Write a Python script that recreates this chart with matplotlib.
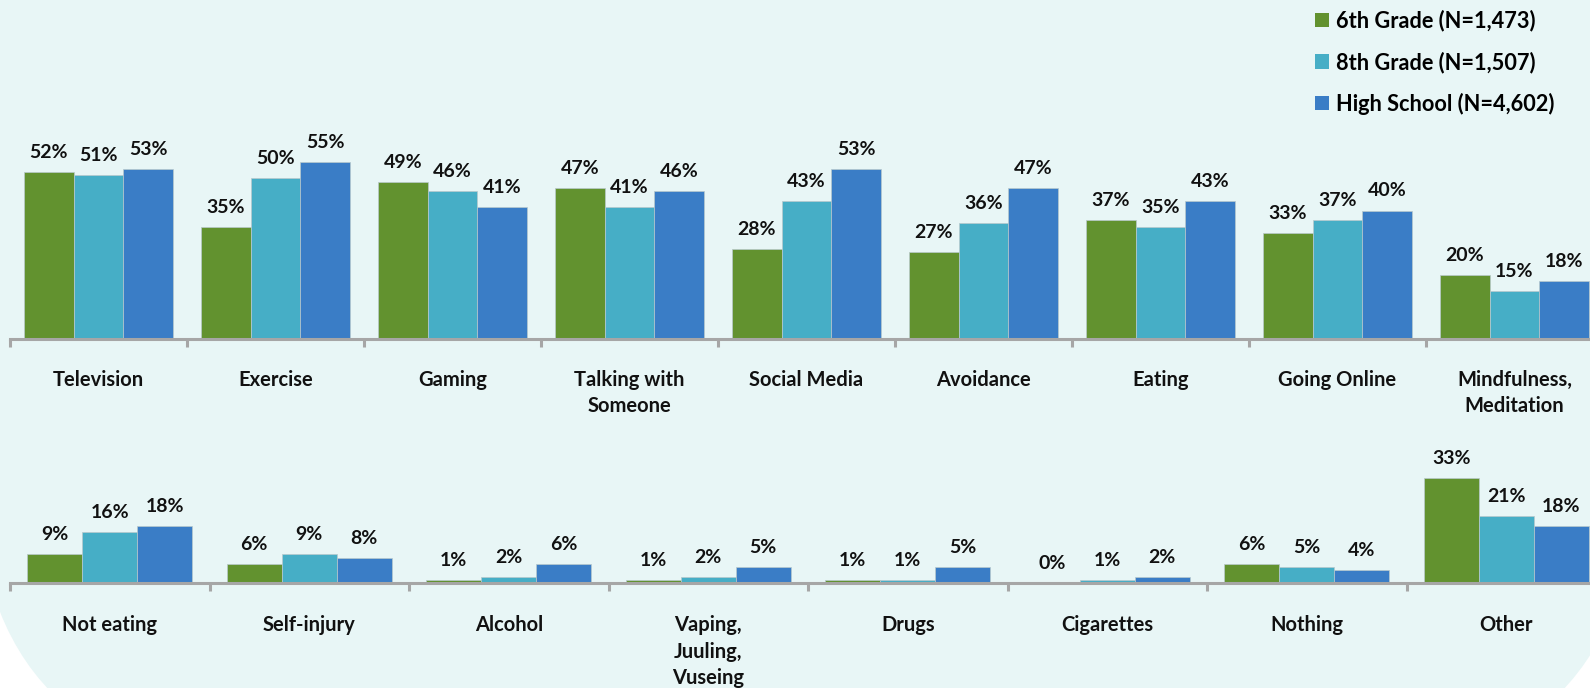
import matplotlib
matplotlib.use('Agg')
import matplotlib.pyplot as plt
from matplotlib.patches import FancyBboxPatch, Patch
import numpy as np

plt.rcParams['font.family'] = ['Lato', 'DejaVu Sans']

series = ['6th Grade (N=1,473)', '8th Grade (N=1,507)', 'High School (N=4,602)']
colors = ['#62922F', '#46AEC6', '#3A7DC6']

top_categories = ['Television', 'Exercise', 'Gaming', 'Talking with\nSomeone', 'Social Media',
                  'Avoidance', 'Eating', 'Going Online', 'Mindfulness,\nMeditation']
top_6th = [52, 35, 49, 47, 28, 27, 37, 33, 20]
top_8th = [51, 50, 46, 41, 43, 36, 35, 37, 15]
top_hs = [53, 55, 41, 46, 53, 47, 43, 40, 18]

bottom_categories = ['Not eating', 'Self-injury', 'Alcohol', 'Vaping,\nJuuling,\nVuseing', 'Drugs',
                     'Cigarettes', 'Nothing', 'Other']
bottom_6th = [9, 6, 1, 1, 1, 0, 6, 33]
bottom_8th = [16, 9, 2, 2, 1, 1, 5, 21]
bottom_hs = [18, 8, 6, 5, 5, 2, 4, 18]

W, H = 1590, 688
fig = plt.figure(figsize=(W / 100, H / 100), dpi=100)
fig.patch.set_facecolor('white')

bg = fig.add_axes([0, 0, 1, 1], zorder=-10)
bg.set_xlim(0, W)
bg.set_ylim(H, 0)
bg.axis('off')
bg.add_patch(FancyBboxPatch((-25, -500), 1662, 1271,
                            boxstyle='round,pad=0,rounding_size=310',
                            fc='#E8F6F6', ec='none'))

AXIS_COLOR = '#A6A6A6'


def panel(axis_y_px, unit_px, px_per_pct, ymax, cats, vals, width, lsp, pad):
    span_px = 1585
    ax = fig.add_axes([10 / W, (H - axis_y_px) / H, span_px / W, ymax * px_per_pct / H])
    ax.set_facecolor('none')
    n = len(cats)
    x = np.arange(n)
    for k, (v, c) in enumerate(zip(vals, colors)):
        xs = x + (k - 1) * width
        ax.bar(xs, v, width=width, color=c, edgecolor='#B9C9CC', linewidth=0.5, zorder=2)
        for xi, vi in zip(xs, v):
            ax.annotate(f'{vi}%', (xi, vi), xytext=(0, 8), textcoords='offset points',
                        ha='center', va='bottom', fontsize=14, fontweight='bold',
                        color='#111111', annotation_clip=False)
    ax.set_xlim(-0.5, -0.5 + span_px / unit_px)
    ax.set_ylim(0, ymax)
    for s in ['top', 'right', 'left']:
        ax.spines[s].set_visible(False)
    ax.spines['bottom'].set_color(AXIS_COLOR)
    ax.spines['bottom'].set_linewidth(2.2)
    ax.spines['bottom'].set_zorder(3)
    ax.set_yticks([])
    ax.set_xticks(x)
    ax.set_xticklabels(cats, fontsize=14.5, fontweight='bold', color='#111111', linespacing=lsp)
    ax.set_xticks(np.arange(n) - 0.5, minor=True)
    ax.tick_params(axis='x', which='major', length=0, pad=pad)
    ax.tick_params(axis='x', which='minor', length=6, width=2.2, color=AXIS_COLOR, direction='out')
    return ax


panel(339, 177, 3.21, 60, top_categories, [top_6th, top_8th, top_hs], 0.28, 1.4, 22)
panel(583, 199.5, 3.17, 40, bottom_categories, [bottom_6th, bottom_8th, bottom_hs], 0.276, 1.42, 23)

fig.legend(handles=[Patch(fc=c, ec='none') for c in colors], labels=series,
           loc='upper left', bbox_to_anchor=(1315 / W, 1 - 10 / H), frameon=False,
           handlelength=0.64, handleheight=0.64, handletextpad=0.32, labelspacing=0.9,
           prop=dict(weight='bold', size=15.7), borderaxespad=0, borderpad=0)

fig.savefig('out.png', dpi=100, facecolor='white')
